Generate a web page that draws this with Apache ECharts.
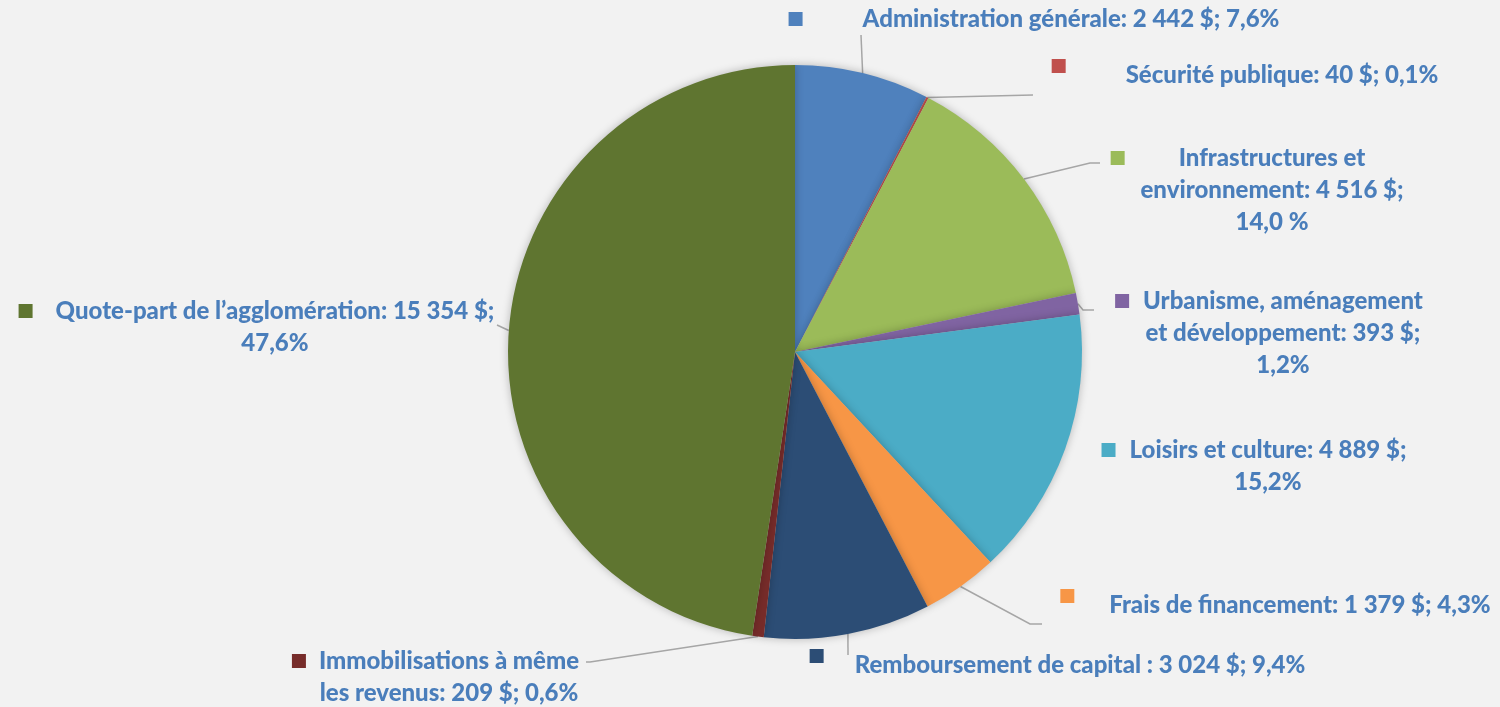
<!DOCTYPE html>
<html lang="fr">
<head>
    <meta charset="UTF-8">
    <title>Répartition des dépenses</title>
    <style>
        html, body { margin: 0; padding: 0; background: #f2f2f2; }
        #main { width: 1500px; height: 707px; }
    </style>
    <script src="https://cdn.jsdelivr.net/npm/echarts@6/dist/echarts.min.js"></script>
</head>
<body>
    <div id="main"></div>
    <script type="text/javascript">
        // données du graphique
        var categories = [
            'Administration générale',
            'Sécurité publique',
            'Infrastructures et environnement',
            'Urbanisme, aménagement et développement',
            'Loisirs et culture',
            'Frais de financement',
            'Remboursement de capital',
            'Immobilisations à même les revenus',
            'Quote-part de l\u2019agglomération'
        ];
        var values = [2442, 40, 4516, 393, 4889, 1379, 3024, 209, 15354];
        // texte des étiquettes, ligne par ligne
        var labelLines = [
            ['Administration générale: 2 442 $; 7,6%'],
            ['Sécurité publique: 40 $; 0,1%'],
            ['Infrastructures et', 'environnement: 4 516 $;', '14,0 %'],
            ['Urbanisme, aménagement', 'et développement: 393 $;', '1,2%'],
            ['Loisirs et culture: 4 889 $;', '15,2%'],
            ['Frais de financement: 1 379 $; 4,3%'],
            ['Remboursement de capital : 3 024 $; 9,4%'],
            ['Immobilisations à même', 'les revenus: 209 $; 0,6%'],
            ['Quote-part de l\u2019agglomération: 15 354 $;', '47,6%']
        ];

        var colors = ['#4f81bd', '#c0504d', '#9bbb59', '#8064a2', '#4bacc6',
                      '#f79646', '#2c4d75', '#772c2a', '#5f7530'];

        // placement des étiquettes (centre du texte, haut du bloc)
        var labelX   = [1071, 1282, 1272, 1283, 1268, 1300, 1080, 449, 275];
        var labelTop = [3, 59, 142, 285, 434, 589, 649, 645, 295];
        var keyGap   = [60, 60, 54, 14, 14, 35, 31, 13, 23];
        var keyRaised = [false, true, false, false, false, true, true, false, false];
        // fin des lignes de rappel
        var lineEnds = [
            [[861, 35]],
            [[1033, 95]],
            [[1090, 163], [1100, 163]],
            [[1083, 310], [1094, 310]],
            null,
            [[1030, 624], [1042, 624]],
            [[848, 655]],
            [[590, 662], [586, 662]],
            [[497, 325]]
        ];

        var myChart = echarts.init(document.getElementById('main'));

        var seriesData = values.map(function (v, i) {
            var lines = labelLines[i].slice();
            lines[0] = '{sq|}{g|}' + lines[0] + '{p|}';
            return {
                name: categories[i],
                value: v,
                itemStyle: { color: colors[i] },
                labelLine: { show: lineEnds[i] !== null },
                label: {
                    formatter: lines.join('\n'),
                    rich: {
                        sq: {
                            width: 14, height: 14, backgroundColor: colors[i],
                            verticalAlign: keyRaised[i] ? 'top' : 'middle'
                        },
                        g: { width: keyGap[i] },
                        p: { width: keyGap[i] + 14 }
                    }
                }
            };
        });

        var option = {
            backgroundColor: '#f2f2f2',
            animation: false,
            series: [{
                type: 'pie',
                center: [795, 352],
                radius: 287,
                startAngle: 90,
                clockwise: true,
                avoidLabelOverlap: false,
                minShowLabelAngle: 0,
                itemStyle: {
                    borderWidth: 0,
                    shadowBlur: 8,
                    shadowColor: 'rgba(0,0,0,0.25)'
                },
                emphasis: { disabled: true },
                label: {
                    show: true,
                    position: 'outside',
                    color: '#4a7ebb',
                    fontFamily: 'Lato',
                    fontWeight: 900,
                    fontSize: 24,
                    lineHeight: 32,
                    align: 'center'
                },
                labelLine: {
                    show: true,
                    lineStyle: { color: '#a6a6a6', width: 1.5 }
                },
                labelLayout: function (params) {
                    var i = params.dataIndex;
                    var res = {
                        x: labelX[i],
                        y: labelTop[i],
                        align: 'center',
                        verticalAlign: 'top'
                    };
                    if (lineEnds[i] && params.labelLinePoints) {
                        res.labelLinePoints = [params.labelLinePoints[0]].concat(lineEnds[i]);
                    }
                    return res;
                },
                data: seriesData
            }]
        };

        myChart.setOption(option);
    </script>
</body>
</html>
